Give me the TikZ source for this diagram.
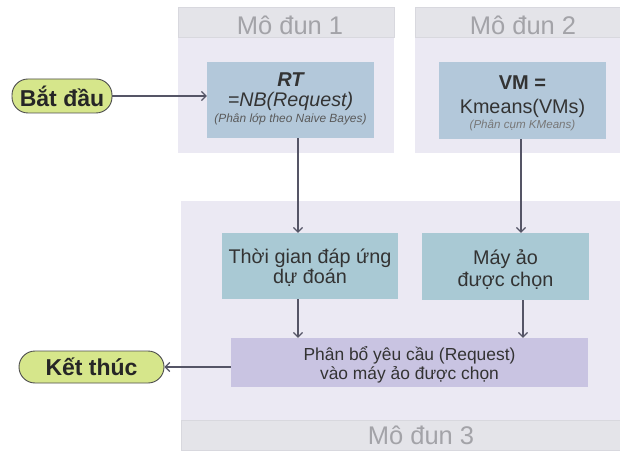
\documentclass[tikz,border=0pt]{standalone}
\usepackage{fontspec}
\setmainfont{Liberation Sans}
\usetikzlibrary{arrows.meta,calc}
\definecolor{panelbg}{HTML}{EBE9F3}
\definecolor{headbg}{HTML}{E4E4E9}
\definecolor{headline}{HTML}{D8D8DE}
\definecolor{modtext}{HTML}{A3A3A8}
\definecolor{topbox}{HTML}{B3C8DA}
\definecolor{midbox}{HTML}{A9C9D4}
\definecolor{lowbox}{HTML}{C9C4E2}
\definecolor{pillfill}{HTML}{D6E68B}
\definecolor{pillline}{HTML}{4E4E4E}
\definecolor{arrowc}{HTML}{555566}
\definecolor{boxtext}{HTML}{333333}
\definecolor{subtext}{HTML}{5A5A5A}
\definecolor{subtextl}{HTML}{777777}
\tikzset{
  panel/.style={fill=panelbg, draw=none},
  header/.style={fill=headbg, draw=headline, line width=0.4pt},
  modlabel/.style={text=modtext, font=\fontsize{25.5}{28}\selectfont, anchor=base, inner sep=0pt},
  flowbox/.style={draw=none, minimum width=#1, inner sep=0pt, anchor=center},
  pill/.style={fill=pillfill, draw=pillline, line width=0.9pt, rounded corners=16pt,
    inner sep=0pt, text=black!85, font=\bfseries\fontsize{23}{26}\selectfont, anchor=center},
  boxtxt/.style={text=boxtext, align=center, anchor=center, inner sep=0pt},
  basetxt/.style={anchor=base, inner sep=0pt},
  arr/.style={draw=arrowc, line width=1.3pt, -{Straight Barb[length=4.5pt,width=9pt,line width=1.2pt]}}
}
\begin{document}
\begin{tikzpicture}[x=1pt,y=1pt]
\useasboundingbox (0,0) rectangle (620,450);
\clip (0,0) rectangle (620,450);
% panels
\fill[white] (0,0) rectangle (620,450);
\path[panel] (178,297) rectangle (394,412.5);
\path[header] (178,412.5) rectangle (394,443);
\path[panel] (415,297) rectangle (640,412.5);
\path[header] (415,412.5) rectangle (640,443);
\path[panel] (181,30) rectangle (670,249);
\path[header] (181,0) rectangle (670,30);
\node[modlabel] (m1) at (290,415.5) {Mô đun 1};
\node[modlabel] (m2) at (523,415.5) {Mô đun 2};
\node[modlabel] (m3) at (421,5.5) {Mô đun 3};
% top boxes
\node[flowbox=167pt, minimum height=76pt, fill=topbox] (rt) at (290.5,350) {};
\node[basetxt, text=boxtext, font=\bfseries\itshape\fontsize{20}{22}\selectfont] (rt1) at (290.5,363.3) {RT};
\node[basetxt, text=boxtext, font=\itshape\fontsize{19.7}{22}\selectfont] (rt2) at (290.5,343.3) {=NB(Request)};
\node[basetxt, text=subtext, font=\itshape\fontsize{11.9}{13}\selectfont] (rt3) at (290.5,327.3) {(Phân lớp theo Naive Bayes)};
\node[flowbox=167pt, minimum height=77pt, fill=topbox] (vm) at (522.5,349.5) {};
\node[basetxt, text=boxtext, font=\bfseries\fontsize{20}{22}\selectfont] (vm1) at (522.5,360.7) {VM =};
\node[basetxt, text=boxtext, font=\fontsize{19.8}{22}\selectfont] (vm2) at (522.5,336.7) {Kmeans(VMs)};
\node[basetxt, text=subtextl, font=\itshape\fontsize{11.6}{13}\selectfont] (vm3) at (522.5,321.7) {(Phân cụm KMeans)};
% middle boxes
\node[flowbox=176pt, minimum height=66pt, fill=midbox] (tg) at (310,184) {};
\node[boxtxt, font=\fontsize{19.8}{20.5}\selectfont] (tgt) at (310,182.5) {Thời gian đáp ứng\\dự đoán};
\node[flowbox=167pt, minimum height=67pt, fill=midbox] (ma) at (505.5,183.5) {};
\node[boxtxt, font=\fontsize{19.8}{21.7}\selectfont] (mat) at (505.5,180.5) {Máy ảo\\được chọn};
% bottom box
\node[flowbox=357pt, minimum height=49pt, fill=lowbox] (pb) at (409.5,87.5) {};
\node[boxtxt, font=\fontsize{17.4}{19}\selectfont] (pbt) at (409.5,85.5) {Phân bổ yêu cầu (Request)\\vào máy ảo được chọn};
% pills
\node[pill, minimum width=100pt, minimum height=34pt] (start) at (62,354) {Bắt đầu};
\node[pill, minimum width=145pt, minimum height=32pt] (end) at (91.5,83) {Kết thúc};
% connectors
\coordinate (cx1) at (298,0);
\coordinate (cx2) at (521,0);
\coordinate (cx3) at (523,0);
\draw[arr] (start.east) -- (rt.west |- start.east);
\draw[arr] (rt.south -| cx1) -- (tg.north -| cx1);
\draw[arr] (vm.south -| cx2) -- (ma.north -| cx2);
\draw[arr] (tg.south -| cx1) -- (pb.north -| cx1);
\draw[arr] (ma.south -| cx3) -- (pb.north -| cx3);
\draw[arr] (pb.west |- end.east) -- (end.east);
\end{tikzpicture}
\end{document}
